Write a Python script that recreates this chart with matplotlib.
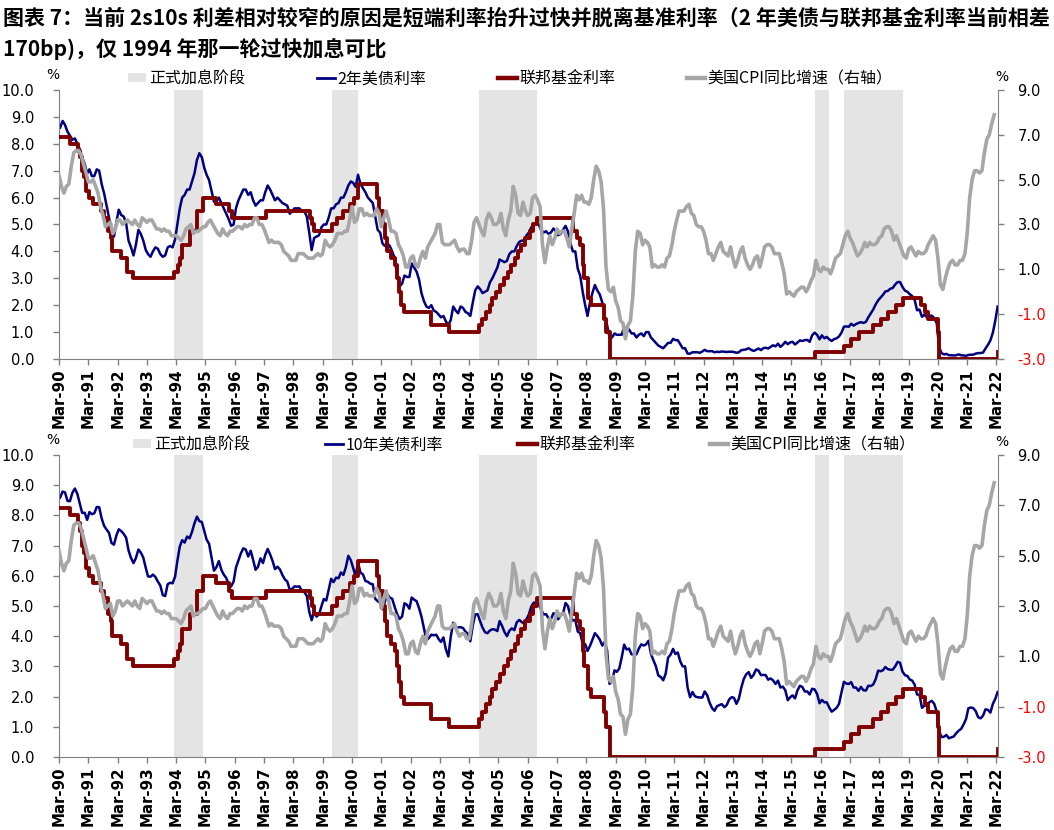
import numpy as np
import pandas as pd
import matplotlib
matplotlib.use('Agg')
import matplotlib.pyplot as plt
from matplotlib.patches import Patch
from matplotlib.lines import Line2D

# 标题
title_1 = '图表 7：当前 2s10s 利差相对较窄的原因是短端利率抬升过快并脱离基准利率（2 年美债与联邦基金利率当前相差'
title_2 = '170bp)，仅 1994 年那一轮过快加息可比'

# 月度数据，1990-03 起
start_month = '1990-03-01'

# 2年美债利率 (%)
ust2y = [
    8.60, 8.85, 8.70, 8.45, 8.30, 8.15, 8.20, 8.00, 7.80, 7.50,
    7.25, 6.90, 7.05, 6.80, 6.80, 7.05, 7.00, 6.50, 6.15, 5.70, 5.25, 4.75,
    4.55, 5.10, 5.55, 5.35, 5.30, 5.05, 4.40, 4.15, 3.85, 4.25, 4.80, 4.65,
    4.40, 4.05, 3.90, 3.80, 4.00, 4.15, 4.10, 3.90, 3.80, 3.85, 4.15, 4.20,
    4.15, 4.45, 5.00, 5.60, 6.00, 6.10, 6.30, 6.30, 6.60, 6.90, 7.40, 7.65,
    7.50, 7.10, 6.85, 6.65, 6.25, 5.85, 5.85, 6.00, 5.80, 5.60, 5.40, 5.20,
    4.95, 5.00, 5.60, 5.90, 6.10, 6.30, 6.30, 6.10, 6.20, 5.90, 5.70, 5.80,
    5.90, 5.90, 6.20, 6.45, 6.30, 6.10, 5.90, 6.00, 5.90, 5.80, 5.75, 5.70,
    5.40, 5.50, 5.60, 5.60, 5.60, 5.50, 5.50, 5.30, 4.70, 4.05, 4.50, 4.55,
    4.60, 4.90, 5.00, 5.00, 5.25, 5.60, 5.60, 5.75, 5.80, 6.00, 6.00, 6.20,
    6.45, 6.60, 6.55, 6.40, 6.85, 6.50, 6.35, 6.20, 6.00, 5.90, 5.80, 5.30,
    4.80, 4.70, 4.30, 4.20, 4.30, 4.20, 4.00, 3.75, 3.10, 2.70, 2.80, 3.10,
    3.05, 3.05, 3.55, 3.40, 3.25, 2.95, 2.45, 2.15, 1.95, 1.90, 2.00, 1.80,
    1.75, 1.65, 1.55, 1.60, 1.40, 1.25, 1.45, 1.95, 1.80, 1.70, 1.95, 1.90,
    1.75, 1.70, 1.60, 2.10, 2.55, 2.70, 2.60, 2.45, 2.50, 2.55, 2.85, 3.00,
    3.20, 3.40, 3.70, 3.65, 3.60, 3.65, 3.90, 4.00, 4.00, 4.20, 4.35, 4.40,
    4.40, 4.60, 4.70, 4.90, 4.95, 5.10, 5.00, 4.80, 4.70, 4.75, 4.65, 4.70,
    4.85, 4.75, 4.60, 4.65, 4.80, 4.95, 4.75, 4.30, 4.00, 4.00, 3.35, 3.10,
    2.50, 2.00, 1.60, 2.10, 2.45, 2.75, 2.55, 2.40, 2.10, 1.60, 1.25, 0.80,
    0.80, 0.95, 0.90, 0.90, 0.90, 1.20, 1.00, 1.10, 0.95, 0.95, 0.80, 0.90,
    0.95, 0.85, 1.00, 1.00, 0.80, 0.70, 0.60, 0.50, 0.45, 0.40, 0.50, 0.60,
    0.60, 0.75, 0.70, 0.70, 0.55, 0.40, 0.40, 0.20, 0.20, 0.25, 0.25, 0.25,
    0.23, 0.28, 0.34, 0.29, 0.29, 0.29, 0.25, 0.27, 0.26, 0.28, 0.27, 0.26,
    0.27, 0.27, 0.26, 0.23, 0.25, 0.33, 0.34, 0.36, 0.40, 0.34, 0.30, 0.34,
    0.39, 0.33, 0.40, 0.42, 0.39, 0.45, 0.51, 0.47, 0.57, 0.45, 0.53, 0.64,
    0.55, 0.62, 0.64, 0.54, 0.61, 0.69, 0.67, 0.70, 0.71, 0.64, 0.88, 0.98,
    0.90, 0.73, 0.88, 0.77, 0.82, 0.73, 0.67, 0.74, 0.77, 0.84, 0.98, 1.20,
    1.21, 1.20, 1.31, 1.24, 1.30, 1.34, 1.37, 1.34, 1.38, 1.55, 1.70, 1.84,
    2.03, 2.18, 2.28, 2.38, 2.51, 2.53, 2.61, 2.64, 2.77, 2.86, 2.86, 2.68,
    2.54, 2.50, 2.41, 2.34, 2.21, 1.81, 1.84, 1.57, 1.65, 1.55, 1.61, 1.61,
    1.52, 1.33, 0.45, 0.22, 0.17, 0.19, 0.14, 0.14, 0.13, 0.14, 0.17, 0.14,
    0.13, 0.12, 0.15, 0.16, 0.16, 0.20, 0.22, 0.22, 0.24, 0.39, 0.53, 0.69,
    0.98, 1.44, 1.95,
]

# 10年美债利率 (%)
ust10y = [
    8.59, 8.79, 8.76, 8.48, 8.47, 8.75, 8.89, 8.72, 8.39, 8.08,
    8.09, 7.85, 8.11, 8.04, 8.07, 8.28, 8.27, 7.90, 7.65, 7.53, 7.42, 7.09,
    7.03, 7.34, 7.54, 7.48, 7.39, 7.26, 6.84, 6.59, 6.42, 6.59, 6.87, 6.77,
    6.60, 6.26, 5.98, 5.97, 6.04, 5.96, 5.81, 5.68, 5.36, 5.33, 5.72, 5.77,
    5.75, 5.97, 6.48, 6.97, 7.18, 7.10, 7.30, 7.24, 7.46, 7.74, 7.96, 7.81,
    7.78, 7.47, 7.20, 7.06, 6.63, 6.17, 6.28, 6.49, 6.20, 6.04, 5.93, 5.71,
    5.65, 5.81, 6.27, 6.51, 6.74, 6.91, 6.87, 6.64, 6.83, 6.53, 6.20, 6.30,
    6.58, 6.42, 6.69, 6.89, 6.71, 6.49, 6.22, 6.30, 6.21, 6.03, 5.88, 5.81,
    5.54, 5.57, 5.65, 5.64, 5.65, 5.50, 5.46, 5.34, 4.81, 4.53, 4.83, 4.65,
    4.72, 5.00, 5.23, 5.18, 5.54, 5.90, 5.79, 5.94, 5.92, 6.11, 6.03, 6.28,
    6.66, 6.52, 6.26, 5.99, 6.44, 6.10, 6.05, 5.83, 5.80, 5.74, 5.72, 5.24,
    5.16, 5.10, 4.89, 5.14, 5.39, 5.28, 5.24, 4.97, 4.73, 4.57, 4.65, 5.09,
    5.04, 4.91, 5.28, 5.21, 5.16, 4.93, 4.65, 4.26, 3.87, 3.94, 4.05, 4.03,
    4.05, 3.90, 3.81, 3.96, 3.57, 3.33, 3.98, 4.45, 4.27, 4.29, 4.30, 4.27,
    4.15, 4.08, 3.83, 4.35, 4.72, 4.73, 4.50, 4.28, 4.13, 4.10, 4.19, 4.23,
    4.22, 4.17, 4.50, 4.34, 4.14, 4.00, 4.18, 4.26, 4.20, 4.46, 4.54, 4.47,
    4.42, 4.57, 4.72, 4.99, 5.11, 5.11, 5.09, 4.88, 4.72, 4.73, 4.60, 4.56,
    4.76, 4.72, 4.56, 4.69, 4.75, 5.10, 5.00, 4.67, 4.52, 4.53, 4.15, 4.10,
    3.74, 3.74, 3.51, 3.68, 3.88, 4.10, 4.01, 3.89, 3.69, 3.81, 3.53, 2.42,
    2.52, 2.87, 2.82, 2.93, 3.29, 3.72, 3.56, 3.59, 3.40, 3.39, 3.40, 3.59,
    3.73, 3.69, 3.73, 3.85, 3.42, 3.20, 3.01, 2.70, 2.65, 2.54, 2.76, 3.29,
    3.39, 3.58, 3.41, 3.46, 3.17, 3.00, 3.00, 2.30, 1.98, 2.15, 2.01, 1.98,
    1.97, 1.97, 2.17, 2.05, 1.80, 1.62, 1.53, 1.68, 1.72, 1.75, 1.65, 1.72,
    1.91, 1.98, 1.96, 1.76, 1.93, 2.30, 2.58, 2.74, 2.81, 2.62, 2.72, 2.90,
    2.86, 2.71, 2.72, 2.71, 2.56, 2.60, 2.54, 2.42, 2.53, 2.30, 2.33, 2.21,
    1.88, 1.98, 2.04, 1.94, 2.20, 2.36, 2.32, 2.17, 2.17, 2.07, 2.26, 2.24,
    2.09, 1.78, 1.89, 1.81, 1.81, 1.64, 1.50, 1.56, 1.63, 1.76, 2.14, 2.49,
    2.43, 2.42, 2.48, 2.30, 2.30, 2.19, 2.32, 2.21, 2.20, 2.36, 2.35, 2.40,
    2.58, 2.86, 2.84, 2.87, 2.98, 2.91, 2.89, 2.89, 3.00, 3.15, 3.12, 2.83,
    2.71, 2.68, 2.57, 2.53, 2.40, 2.07, 2.06, 1.63, 1.70, 1.71, 1.81, 1.86,
    1.76, 1.50, 0.87, 0.66, 0.67, 0.73, 0.62, 0.65, 0.68, 0.79, 0.87, 0.93,
    1.08, 1.26, 1.61, 1.64, 1.62, 1.52, 1.32, 1.28, 1.37, 1.58, 1.56, 1.47,
    1.76, 1.93, 2.15,
]

# 美国CPI同比 (%)，右轴
cpi_yoy = [
    5.2, 4.7, 4.4, 4.7, 4.8, 5.6, 6.2, 6.3, 6.3, 6.1,
    5.7, 5.3, 4.9, 4.9, 5.0, 4.7, 4.4, 3.8, 3.4, 2.9, 3.0, 3.1,
    2.6, 2.8, 3.2, 3.2, 3.0, 3.1, 3.2, 3.1, 3.0, 3.2, 3.0, 2.9,
    3.3, 3.2, 3.1, 3.2, 3.2, 3.0, 2.8, 2.8, 2.7, 2.8, 2.7, 2.7,
    2.5, 2.5, 2.5, 2.4, 2.3, 2.5, 2.8, 2.9, 3.0, 2.6, 2.7, 2.7,
    2.8, 2.9, 2.9, 3.1, 3.2, 3.0, 2.8, 2.6, 2.5, 2.8, 2.6, 2.5,
    2.7, 2.7, 2.8, 2.9, 2.9, 2.8, 3.0, 2.9, 3.0, 3.0, 3.3, 3.3,
    3.0, 3.0, 2.8, 2.5, 2.2, 2.3, 2.2, 2.2, 2.2, 2.1, 1.8, 1.7,
    1.6, 1.4, 1.4, 1.4, 1.7, 1.7, 1.7, 1.6, 1.5, 1.5, 1.5, 1.6,
    1.7, 1.6, 1.7, 2.3, 2.1, 2.0, 2.1, 2.3, 2.6, 2.6, 2.6, 2.7,
    2.7, 3.2, 3.8, 3.1, 3.2, 3.7, 3.7, 3.4, 3.5, 3.4, 3.4, 3.4,
    3.7, 3.5, 2.9, 3.3, 3.6, 3.2, 2.7, 2.7, 2.6, 2.1, 1.9, 1.6,
    1.1, 1.1, 1.5, 1.6, 1.2, 1.1, 1.5, 1.8, 1.5, 2.0, 2.2, 2.4,
    2.6, 3.0, 3.0, 2.2, 2.1, 2.1, 2.1, 2.2, 2.3, 2.0, 1.8, 1.9,
    1.9, 1.7, 1.7, 2.3, 3.1, 3.3, 3.0, 2.7, 2.5, 3.2, 3.5, 3.3,
    3.0, 3.0, 3.1, 3.5, 2.8, 2.5, 3.2, 3.6, 4.7, 4.3, 3.5, 3.4,
    4.0, 3.6, 3.4, 3.5, 4.2, 4.3, 4.1, 3.8, 2.1, 1.3, 2.0, 2.5,
    2.1, 2.4, 2.8, 2.6, 2.7, 2.7, 2.4, 2.0, 2.8, 3.5, 4.3, 4.1,
    4.3, 4.0, 4.0, 3.9, 4.2, 5.0, 5.6, 5.4, 4.9, 3.7, 1.1, 0.1,
    0.0, 0.2, -0.4, -0.7, -1.3, -1.4, -2.1, -1.5, -1.3, -0.2, 1.8, 2.7,
    2.6, 2.1, 2.3, 2.2, 2.0, 1.1, 1.2, 1.1, 1.1, 1.2, 1.1, 1.5,
    1.6, 2.1, 2.7, 3.2, 3.6, 3.6, 3.6, 3.8, 3.9, 3.5, 3.4, 3.0,
    2.9, 2.9, 2.7, 2.3, 1.7, 1.7, 1.4, 1.7, 2.0, 2.2, 1.8, 1.7,
    1.6, 2.0, 1.5, 1.1, 1.4, 1.8, 2.0, 1.5, 1.2, 1.0, 1.2, 1.5,
    1.6, 1.1, 1.5, 2.0, 2.1, 2.1, 2.0, 1.7, 1.7, 1.7, 1.3, 0.8,
    -0.1, 0.0, -0.1, -0.2, 0.0, 0.1, 0.2, 0.2, 0.0, 0.2, 0.5, 0.7,
    1.4, 1.0, 0.9, 1.1, 1.0, 1.0, 0.8, 1.1, 1.5, 1.6, 1.7, 2.1,
    2.5, 2.7, 2.4, 2.2, 1.9, 1.6, 1.7, 1.9, 2.2, 2.0, 2.2, 2.1,
    2.1, 2.2, 2.4, 2.5, 2.8, 2.9, 2.9, 2.7, 2.3, 2.5, 2.2, 1.9,
    1.6, 1.5, 1.9, 2.0, 1.8, 1.6, 1.8, 1.7, 1.7, 1.8, 2.1, 2.3,
    2.5, 2.3, 1.5, 0.3, 0.1, 0.6, 1.0, 1.3, 1.4, 1.2, 1.2, 1.4,
    1.4, 1.7, 2.6, 4.2, 5.0, 5.4, 5.4, 5.3, 5.4, 6.2, 6.8, 7.0,
    7.5, 7.9,
]

# 联邦基金目标利率（2008年12月后取区间下限）
ff_dates = [
    '1990-03-01', '1990-07-13', '1990-10-29', '1990-11-13', '1990-12-07', '1990-12-18',
    '1991-01-09', '1991-02-01', '1991-03-08', '1991-04-30', '1991-08-06', '1991-09-13',
    '1991-10-31', '1991-11-06', '1991-12-06', '1991-12-20', '1992-04-09', '1992-07-02',
    '1992-09-04', '1994-02-04', '1994-03-22', '1994-04-18', '1994-05-17', '1994-08-16',
    '1994-11-15', '1995-02-01', '1995-07-06', '1995-12-19', '1996-01-31', '1997-03-25',
    '1998-09-29', '1998-10-15', '1998-11-17', '1999-06-30', '1999-08-24', '1999-11-16',
    '2000-02-02', '2000-03-21', '2000-05-16', '2001-01-03', '2001-01-31', '2001-03-20',
    '2001-04-18', '2001-05-15', '2001-06-27', '2001-08-21', '2001-09-17', '2001-10-02',
    '2001-11-06', '2001-12-11', '2002-11-06', '2003-06-25', '2004-06-30', '2004-08-10',
    '2004-09-21', '2004-11-10', '2004-12-14', '2005-02-02', '2005-03-22', '2005-05-03',
    '2005-06-30', '2005-08-09', '2005-09-20', '2005-11-01', '2005-12-13', '2006-01-31',
    '2006-03-28', '2006-05-10', '2006-06-29', '2007-09-18', '2007-10-31', '2007-12-11',
    '2008-01-22', '2008-01-30', '2008-03-18', '2008-04-30', '2008-10-08', '2008-10-29',
    '2008-12-16', '2015-12-17', '2016-12-15', '2017-03-16', '2017-06-15', '2017-12-14',
    '2018-03-22', '2018-06-14', '2018-09-27', '2018-12-20', '2019-08-01', '2019-09-19',
    '2019-10-31', '2020-03-04', '2020-03-16', '2022-03-17', '2022-03-20',
]
ff_rate = [
    8.25, 8.00, 7.75, 7.50, 7.25, 7.00,
    6.75, 6.25, 6.00, 5.75, 5.50, 5.25,
    5.00, 4.75, 4.50, 4.00, 3.75, 3.25,
    3.00, 3.25, 3.50, 3.75, 4.25, 4.75,
    5.50, 6.00, 5.75, 5.50, 5.25, 5.50,
    5.25, 5.00, 4.75, 5.00, 5.25, 5.50,
    5.75, 6.00, 6.50, 6.00, 5.50, 5.00,
    4.50, 4.00, 3.75, 3.50, 3.00, 2.50,
    2.00, 1.75, 1.25, 1.00, 1.25, 1.50,
    1.75, 2.00, 2.25, 2.50, 2.75, 3.00,
    3.25, 3.50, 3.75, 4.00, 4.25, 4.50,
    4.75, 5.00, 5.25, 4.75, 4.50, 4.25,
    3.50, 3.00, 2.25, 2.00, 1.50, 1.00,
    0.00, 0.25, 0.50, 0.75, 1.00, 1.25,
    1.50, 1.75, 2.00, 2.25, 2.00, 1.75,
    1.50, 1.00, 0.00, 0.25, 0.25,
]

# 正式加息阶段
hike_start = ['1994-02-04', '1999-06-30', '2004-06-30', '2015-12-16', '2016-12-14']
hike_end = ['1995-02-01', '2000-05-16', '2006-06-29', '2016-06-15', '2018-12-19']

x_start = pd.Timestamp('1990-03-01')
x_end = pd.Timestamp('2022-03-20')
tick_years = list(range(1990, 2023))
left_ticks = np.arange(0, 10.5, 1.0)
right_ticks = np.arange(-3, 9.5, 2.0)

NAVY = '#000080'
RED = '#800000'
GREY = '#A6A6A6'
SHADE = '#E4E4E4'
SPINE = '#808080'
CJK = ['Noto Sans CJK SC', 'DejaVu Sans']

W, H = 1054, 830
fig = plt.figure(figsize=(W / 100, H / 100), dpi=100)

fig.text(3 / W, 1 - 18 / H, title_1, family=CJK, fontsize=15.1, fontweight='bold', va='center', ha='left')
fig.text(3 / W, 1 - 50 / H, title_2, family=CJK, fontsize=15.1, fontweight='bold', va='center', ha='left')

month_idx = pd.date_range(start_month, periods=len(ust2y), freq='MS') + pd.Timedelta(days=14)
cpi_idx = pd.date_range(start_month, periods=len(cpi_yoy), freq='MS')
ff_idx = pd.to_datetime(ff_dates)


def draw_panel(top_px, bottom_px, yld, yld_label, legend_y, legend_x, colsp, pct_y):
    ax = fig.add_axes([59 / W, 1 - bottom_px / H, (998 - 59) / W, (bottom_px - top_px) / H])
    ax2 = ax.twinx()

    for s, e in zip(hike_start, hike_end):
        ax.axvspan(pd.Timestamp(s), pd.Timestamp(e), color=SHADE, lw=0, zorder=0)

    ax.plot(month_idx[:len(yld)], yld, color=NAVY, lw=1.8, zorder=2)
    ax.plot(ff_idx, ff_rate, color=RED, lw=2.8, drawstyle='steps-post', zorder=3)
    ax2.plot(cpi_idx, cpi_yoy, color=GREY, lw=2.6, zorder=2)

    ax.set_xlim(x_start, x_end)
    ax.set_ylim(0, 10)
    ax2.set_ylim(-3, 9)

    ax.set_yticks(left_ticks)
    ax.set_yticklabels([f'{v:.1f}' for v in left_ticks], fontsize=10.5)
    ax2.set_yticks(right_ticks)
    ax2.set_yticklabels([f'{v:.1f}' for v in right_ticks], fontsize=10.5)
    for v, lbl in zip(right_ticks, ax2.get_yticklabels()):
        if v < 0:
            lbl.set_color('#FF0000')

    xt = [pd.Timestamp(f'{y}-03-01') for y in tick_years]
    ax.set_xticks(xt)
    ax.set_xticklabels([t.strftime('Mar-%y') for t in xt], rotation=90,
                       fontsize=10.8, fontweight='bold')

    ax.tick_params(axis='y', direction='out', length=4, width=1, color=SPINE, pad=14)
    ax.tick_params(axis='x', direction='out', length=4, width=1, color=SPINE, pad=3)
    ax2.tick_params(axis='y', direction='out', length=4, width=1, color=SPINE, pad=10)

    for a in (ax, ax2):
        a.spines['top'].set_visible(False)
        for side in ('left', 'right', 'bottom'):
            a.spines[side].set_color(SPINE)
    ax.spines['right'].set_visible(False)
    ax2.spines['left'].set_visible(False)
    ax2.spines['bottom'].set_visible(False)

    fig.text(53 / W, 1 - pct_y / H, '%', fontsize=10, ha='center', va='center')
    fig.text(1002 / W, 1 - (pct_y + 2) / H, '%', fontsize=10, ha='center', va='center')

    handles = [
        Patch(facecolor=SHADE, edgecolor='none'),
        Line2D([], [], color=NAVY, lw=2.0),
        Line2D([], [], color=RED, lw=3.2),
        Line2D([], [], color=GREY, lw=3.2),
    ]
    labels = ['正式加息阶段', yld_label, '联邦基金利率', '美国CPI同比增速（右轴）']
    fig.legend(handles, labels, loc='center left', bbox_to_anchor=(legend_x / W, 1 - legend_y / H),
               ncol=4, frameon=False, prop={'family': CJK, 'size': 11.5},
               handlelength=1.15, handleheight=0.5, handletextpad=0.15, columnspacing=colsp,
               borderpad=0, borderaxespad=0)
    return ax, ax2


draw_panel(90, 359, ust2y, '2年美债利率', 79, 128, 4.5, 75)
draw_panel(455, 757, ust10y, '10年美债利率', 445, 133, 4.7, 440)

fig.savefig('out.png', dpi=100)
